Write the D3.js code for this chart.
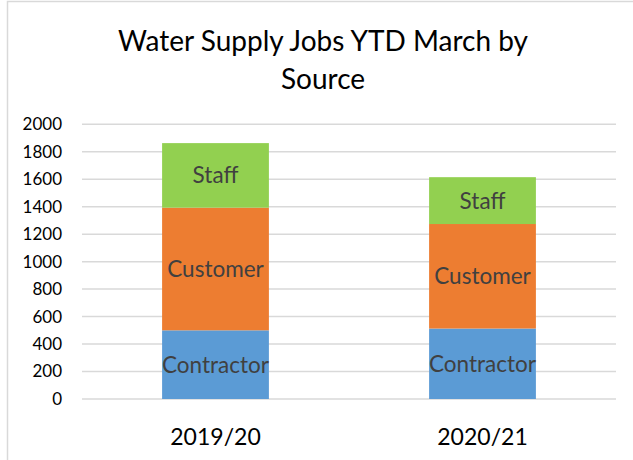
<!DOCTYPE html>
<html>
<head>
<meta charset="utf-8">
<script src="https://cdn.jsdelivr.net/npm/d3@7"></script>
<style>
  body { margin: 0; background: #fff; }
  svg { display: block; font-family: Lato, "Noto Sans", sans-serif; }
</style>
</head>
<body>
<div id="chart"></div>
<script>
// data
var years = ["2019/20", "2020/21"];
var sources = ["Contractor", "Customer", "Staff"];
var contractor = [500, 513];
var customer = [893, 761];
var staff = [470, 341];
var yTicks = [0, 200, 400, 600, 800, 1000, 1200, 1400, 1600, 1800, 2000];
var titleLines = ["Water Supply Jobs YTD March by", "Source"];

var colors = {Contractor: "#5b9bd5", Customer: "#ed7d31", Staff: "#92d050"};

var width = 633,
    height = 460;

var rows = years.map(function(y, i) {
    return {year: y, Contractor: contractor[i], Customer: customer[i], Staff: staff[i]};
});

var svg = d3.select("#chart").append("svg")
    .attr("width", width)
    .attr("height", height);

// chart area border
svg.append("rect")
    .attr("x", 7.5).attr("y", 1.5)
    .attr("width", 700).attr("height", 600)
    .attr("fill", "none")
    .attr("stroke", "#d9d9d9")
    .attr("stroke-width", 1.5);

// title
svg.append("text")
    .attr("x", 323)
    .attr("text-anchor", "middle")
    .attr("font-size", 28)
    .attr("fill", "#000")
    .selectAll("tspan")
    .data(titleLines)
    .enter().append("tspan")
    .attr("x", 323)
    .attr("y", function(d, i) { return 51 + i * 38; })
    .text(function(d) { return d; });

var x = d3.scaleBand()
    .domain(years)
    .range([82, 616])
    .paddingInner(0.6)
    .paddingOuter(0.3);

var y = d3.scaleLinear()
    .domain([0, 2000])
    .range([399, 124.3]);

// gridlines
svg.append("g")
    .selectAll("line")
    .data(yTicks)
    .enter().append("line")
    .attr("x1", 82).attr("x2", 616)
    .attr("y1", function(d) { return y(d); })
    .attr("y2", function(d) { return y(d); })
    .attr("stroke", "#d9d9d9")
    .attr("stroke-width", 1.5);

// y axis labels
var yAxis = d3.axisLeft(y).tickValues(yTicks).tickFormat(d3.format("d")).tickSize(0).tickPadding(0);
var ya = svg.append("g")
    .attr("transform", "translate(62,0)")
    .call(yAxis);
ya.select(".domain").remove();
ya.selectAll("text")
    .attr("font-family", "Lato, sans-serif")
    .attr("font-size", 17)
    .attr("fill", "#000");

// x axis labels
var xAxis = d3.axisBottom(x).tickSize(0).tickPadding(0);
var xa = svg.append("g")
    .attr("transform", "translate(0,445)")
    .call(xAxis);
xa.select(".domain").remove();
xa.selectAll("text")
    .attr("dy", 0)
    .attr("font-family", "Lato, sans-serif")
    .attr("font-size", 23)
    .attr("fill", "#000");

// stacked bars
var stack = d3.stack().keys(sources);
var layers = stack(rows);

var groups = svg.append("g")
    .selectAll("g")
    .data(layers)
    .enter().append("g")
    .attr("fill", function(d) { return colors[d.key]; });

groups.selectAll("rect")
    .data(function(d) { return d; })
    .enter().append("rect")
    .attr("x", function(d) { return x(d.data.year); })
    .attr("width", x.bandwidth())
    .attr("y", function(d) { return y(d[1]); })
    .attr("height", function(d) { return y(d[0]) - y(d[1]); });

// segment labels
layers.forEach(function(layer) {
    svg.append("g")
        .selectAll("text")
        .data(layer)
        .enter().append("text")
        .attr("x", function(d) { return x(d.data.year) + x.bandwidth() / 2; })
        .attr("y", function(d) { return (y(d[0]) + y(d[1])) / 2 + 8; })
        .attr("text-anchor", "middle")
        .attr("font-size", 22.5)
        .attr("fill", "#404040")
        .text(layer.key);
});
</script>
</body>
</html>
